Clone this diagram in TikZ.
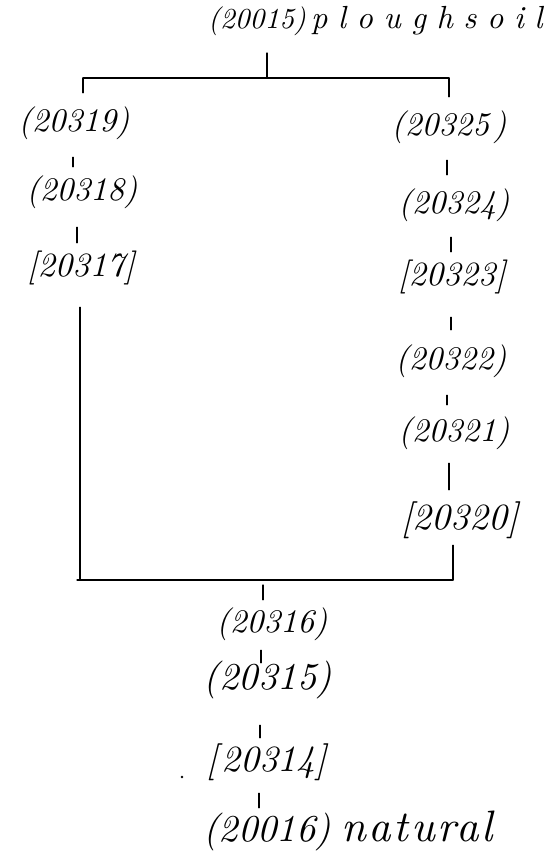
\documentclass[tikz,border=0pt]{standalone}
\usepackage{fontspec}
\setmainfont{lmroman10}[Extension=.otf, UprightFont=*-regular, ItalicFont=*-italic, BoldFont=*-bold, BoldItalicFont=*-bolditalic]
\begin{document}
\begin{tikzpicture}[x=1pt,y=-1pt,
  lab/.style={inner sep=0pt, anchor=center,
    font=\fontsize{#1pt}{#1pt}\selectfont\itshape,
    text height={0.75*#1pt}, text depth={0.25*#1pt}},
  con/.style={line width=1.2pt, line cap=round},
  gap/.style 2 args={con, shorten <=#1, shorten >=#2}]
\useasboundingbox (0,0) rectangle (559,855);

% title
\node[lab=29, anchor=base west] (title) at (208,28)
  {(20015)\hspace{5pt}{\fontsize{32pt}{32pt}\selectfont\addfontfeature{LetterSpace=33}ploughsoil}};

% left branch
\node[lab=33] (l1) at (74,123) {(20319)};
\node[lab=33] (l2) at (82,192) {(20318)};
\node[lab=34] (l3) at (81,268) {[20317]};

% right branch
\node[lab=33] (r1) at (449,127) {(20325\kern4pt)};
\node[lab=33] (r2) at (454,205) {(20324)};
\node[lab=34] (r3) at (452,277) {[20323]};
\node[lab=33] (r4) at (451,361) {(20322)};
\node[lab=33] (r5) at (454,433) {(20321)};
\node[lab=37] (r6) at (460,520) {[20320]};

% lower trunk
\node[lab=33] (b1) at (272,624) {(20316)};
\node[lab=38] (b2) at (268,680) {(20315)};
\node[lab=37] (b3) at (267,762) {[\kern3pt 20314]};
\node[lab=38, anchor=west] (b4) at (203,832)
  {(20016)\hspace{10pt}{\fontsize{44pt}{44pt}\selectfont\addfontfeature{LetterSpace=6}natural}};

% junction points
\coordinate (tj) at (267,78);
\coordinate (bl) at (83,78);
\coordinate (br) at (449,78);
\coordinate (lb) at (80,580);
\coordinate (rb) at (453,580);
\coordinate (bj) at (263,580);

% top bar
\draw[con] (bl) -- (br);
\draw[gap={17.5pt}{0pt}] (title.south -| tj) -- (tj);
\draw[gap={0pt}{13.5pt}] (bl) -- (bl |- l1.north);
\draw[gap={0pt}{13.5pt}] (br) -- (br |- r1.north);

% left column
\draw[gap={17.5pt}{8.5pt}] ([xshift=-1pt]l1.south) -- ([xshift=-1pt]l1.south |- l2.north);
\draw[gap={18.5pt}{8pt}] ([xshift=-5pt]l2.south) -- ([xshift=-5pt]l2.south |- l3.north);
\draw[gap={22pt}{0pt}] ([xshift=-1pt]l3.south) -- (lb);

% right column
\draw[gap={16.5pt}{13.5pt}] ([xshift=-2pt]r1.south) -- ([xshift=-2pt]r1.south |- r2.north);
\draw[gap={15.5pt}{8pt}] ([xshift=-3pt]r2.south) -- ([xshift=-3pt]r2.south |- r3.north);
\draw[gap={23pt}{14.5pt}] ([xshift=-1pt]r3.south) -- ([xshift=-1pt]r3.south |- r4.north);
\draw[gap={17.5pt}{11.5pt}] ([xshift=-4pt]r4.south) -- ([xshift=-4pt]r4.south |- r5.north);
\draw[gap={13.5pt}{11.5pt}] ([xshift=-5pt]r5.south) -- ([xshift=-5pt]r5.south |- r6.north);
\draw[gap={6.5pt}{0pt}] ([xshift=-7pt]r6.south) -- (rb);

% bottom bar
\draw[con] ([xshift=-3pt]lb) -- (rb);

% lower trunk
\draw[gap={5pt}{7.5pt}] (bj) -- (bj |- b1.north);
\draw[gap={9.5pt}{-2pt}] ([xshift=-11pt]b1.south) -- ([xshift=-11pt]b1.south |- b2.north);
\draw[gap={26pt}{5.5pt}] ([xshift=-8pt]b2.south) -- ([xshift=-8pt]b2.south |- b3.north);
\draw[gap={12.5pt}{5pt}] ([xshift=-8pt]b3.south) -- ([xshift=-8pt]b3.south |- b4.north);

% stray dot
\fill (182,777) circle (1.3pt);
\end{tikzpicture}
\end{document}
